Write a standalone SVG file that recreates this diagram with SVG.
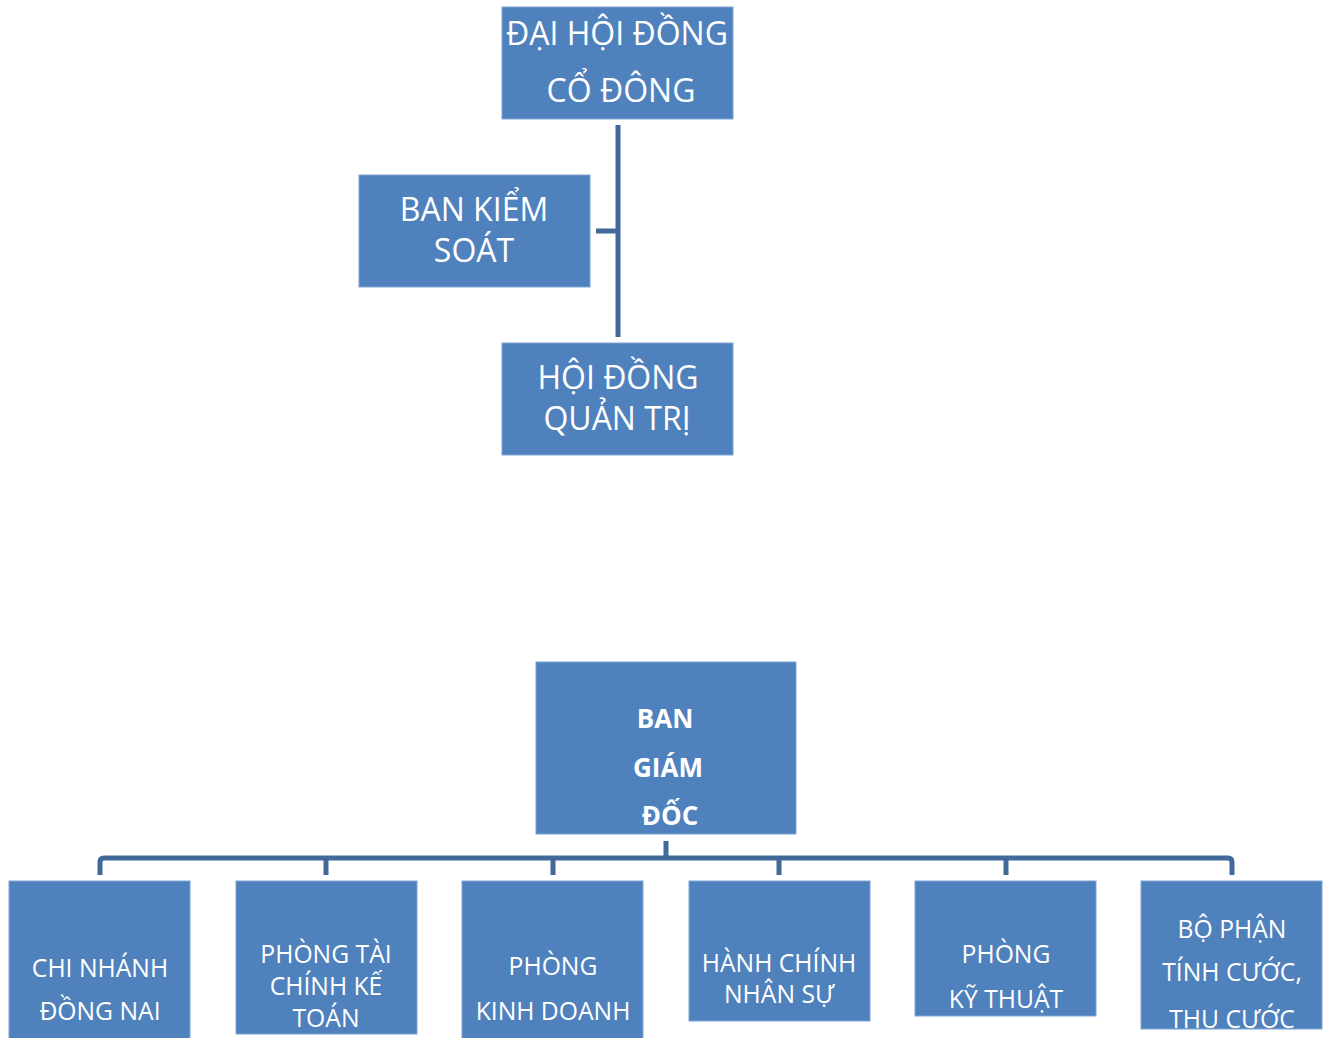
<svg xmlns="http://www.w3.org/2000/svg" width="1327" height="1038" viewBox="0 0 1327 1038">
<style>
.box{fill:#4F81BD;stroke:#7FA4D3;stroke-width:1}
.t{fill:#FFFFFF;font-family:"Open Sans","Noto Sans",sans-serif;text-anchor:middle}
.big{font-size:32px}
.mid{font-size:26px;font-weight:bold}
.sm{font-size:24.7px}
.c{fill:none;stroke:#41699A;stroke-width:5;stroke-linejoin:round}
</style>
<rect width="1327" height="1038" fill="#FFFFFF"/>
<g id="connectors">
<path class="c" d="M618 125V337M596 231H618"/>
<path class="c" d="M666 841V858M100 875V862Q100 858 104 858H1228Q1232 858 1232 862V875M326 858V875M553 858V875M779 858V875M1006 858V875"/>
</g>
<g id="dhdcd">
<rect class="box" x="502" y="7" width="231" height="112"/>
<text class="t big" x="617" y="45">ĐẠI HỘI ĐỒNG</text>
<text class="t big" x="621" y="102">CỔ ĐÔNG</text>
</g>
<g id="bks">
<rect class="box" x="359" y="175" width="231" height="112"/>
<text class="t big" x="474" y="221">BAN KIỂM</text>
<text class="t big" x="474" y="262">SOÁT</text>
</g>
<g id="hdqt">
<rect class="box" x="502" y="343" width="231" height="112"/>
<text class="t big" x="618" y="389">HỘI ĐỒNG</text>
<text class="t big" x="617" y="430">QUẢN TRỊ</text>
</g>
<g id="bgd">
<rect class="box" x="536" y="662" width="260" height="172"/>
<text class="t mid" x="665" y="728">BAN</text>
<text class="t mid" x="668" y="777">GIÁM</text>
<text class="t mid" x="670" y="825">ĐỐC</text>
</g>
<g id="cnbn">
<rect class="box" x="9" y="881" width="181" height="160"/>
<text class="t sm" x="100" y="977">CHI NHÁNH</text>
<text class="t sm" x="100" y="1020">ĐỒNG NAI</text>
</g>
<g id="ptckt">
<rect class="box" x="236" y="881" width="181" height="153"/>
<text class="t sm" x="326" y="963">PHÒNG TÀI</text>
<text class="t sm" x="326" y="995">CHÍNH KẾ</text>
<text class="t sm" x="326" y="1027">TOÁN</text>
</g>
<g id="pkd">
<rect class="box" x="462" y="881" width="181" height="160"/>
<text class="t sm" x="553" y="975">PHÒNG</text>
<text class="t sm" x="553" y="1020">KINH DOANH</text>
</g>
<g id="hcns">
<rect class="box" x="689" y="881" width="181" height="140"/>
<text class="t sm" x="779" y="972">HÀNH CHÍNH</text>
<text class="t sm" x="779" y="1003">NHÂN SỰ</text>
</g>
<g id="pkt">
<rect class="box" x="915" y="881" width="181" height="135"/>
<text class="t sm" x="1006" y="963">PHÒNG</text>
<text class="t sm" x="1006" y="1008">KỸ THUẬT</text>
</g>
<g id="bptc">
<rect class="box" x="1141" y="881" width="181" height="148"/>
<text class="t sm" x="1232" y="938">BỘ PHẬN</text>
<text class="t sm" x="1232" y="981">TÍNH CƯỚC,</text>
<text class="t sm" x="1232" y="1028">THU CƯỚC</text>
</g>
</svg>
